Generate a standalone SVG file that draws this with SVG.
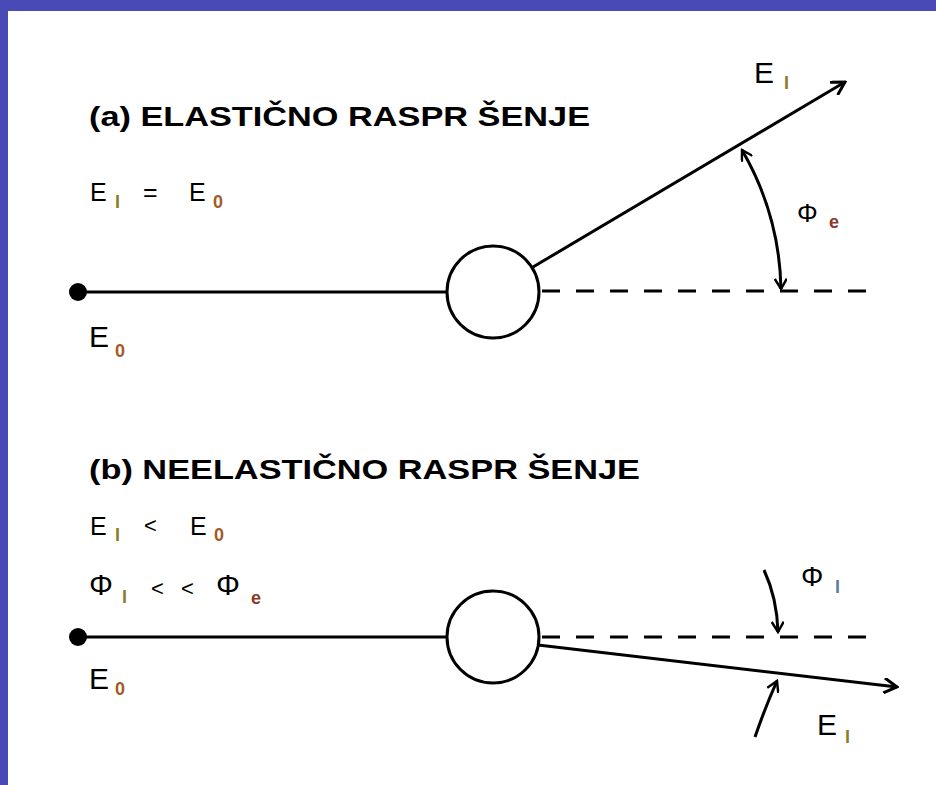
<svg xmlns="http://www.w3.org/2000/svg" width="936" height="785" viewBox="0 0 936 785">
<style>
.t{font-family:"Liberation Sans",Arial,sans-serif;fill:#000}
.title{font-size:28px;font-weight:bold}
.f{font-size:25px}
.big{font-size:30px}
.s{font-size:18px;font-weight:bold}
.ol{fill:#8c7c2c}
.br{fill:#a35a28}
.eb{fill:#8a3a2a}
.bg{fill:#5a7fa0}
.ln{stroke:#000;stroke-width:3;fill:none}
.dash{stroke:#000;stroke-width:3;fill:none;stroke-dasharray:18 16}
</style>
<defs>
<marker id="arr" viewBox="0 0 16 16" refX="14" refY="8" markerWidth="16" markerHeight="16" markerUnits="userSpaceOnUse" orient="auto-start-reverse">
<path d="M1,0.5 L14,8 L1,15.5" fill="none" stroke="#000" stroke-width="3"/>
</marker>
<marker id="arrS" viewBox="0 0 14 14" refX="12" refY="7" markerWidth="13" markerHeight="13" markerUnits="userSpaceOnUse" orient="auto-start-reverse">
<path d="M1,0.5 L12,7 L1,13.5" fill="none" stroke="#000" stroke-width="2.6"/>
</marker>
</defs>
<g id="background">
<rect x="0" y="0" width="936" height="785" fill="#4a4ab6"/>
<rect x="8" y="11" width="928" height="774" fill="#ffffff"/>
</g>
<g id="connectors">
<line class="ln" x1="78" y1="292" x2="447" y2="292"/>
<line class="dash" x1="542" y1="291" x2="882" y2="291"/>
<line class="ln" x1="533" y1="267" x2="845" y2="82" marker-end="url(#arr)"/>
<path class="ln" d="M 742 150 A 288 288 0 0 1 781 289" marker-start="url(#arrS)" marker-end="url(#arrS)"/>
<line class="ln" x1="78" y1="637" x2="447" y2="637"/>
<line class="dash" x1="542" y1="637" x2="882" y2="637"/>
<line class="ln" x1="538" y1="645" x2="897" y2="687" marker-end="url(#arr)"/>
<path class="ln" d="M 764 570 Q 777 598 778 632" marker-end="url(#arrS)"/>
<path class="ln" d="M 755 737 Q 766 705 777 681" marker-end="url(#arrS)"/>
</g>
<g id="source-a"><circle cx="78" cy="292" r="9" fill="#000"/></g>
<g id="target-a"><circle cx="493" cy="292" r="46" fill="#fff" stroke="#000" stroke-width="3"/></g>
<g id="source-b"><circle cx="78" cy="637" r="9" fill="#000"/></g>
<g id="target-b"><circle cx="493" cy="637" r="46" fill="#fff" stroke="#000" stroke-width="3"/></g>
<g id="labels-a">
<text class="t title" x="89" y="126" textLength="501" lengthAdjust="spacingAndGlyphs">(a) ELASTIČNO RASPR ŠENJE</text>
<text class="t f" x="90" y="201">E</text><text class="t s ol" x="115" y="208">I</text>
<text class="t f" x="143" y="201">=</text>
<text class="t f" x="189" y="201">E</text><text class="t s br" x="213" y="208">0</text>
<text class="t big" x="89" y="347">E</text><text class="t s br" x="115" y="357">0</text>
<text class="t big" x="754" y="83">E</text><text class="t s ol" x="784" y="89">I</text>
<text class="t" style="font-size:26px" x="797" y="222">Φ</text><text class="t s eb" x="829" y="228">e</text>
</g>
<g id="labels-b">
<text class="t title" x="89" y="479" textLength="551" lengthAdjust="spacingAndGlyphs">(b) NEELASTIČNO RASPR ŠENJE</text>
<text class="t f" x="90" y="535">E</text><text class="t s ol" x="115" y="541">I</text>
<text class="t" style="font-size:22px" x="144" y="533">&lt;</text>
<text class="t f" x="190" y="535">E</text><text class="t s br" x="214" y="541">0</text>
<text class="t" style="font-size:30px" x="89" y="595">Φ</text><text class="t s ol" x="122" y="603">I</text>
<text class="t" style="font-size:22px" x="151" y="596">&lt;</text>
<text class="t" style="font-size:22px" x="181" y="596">&lt;</text>
<text class="t" style="font-size:30px" x="216" y="595">Φ</text><text class="t s eb" x="251" y="604">e</text>
<text class="t big" x="89" y="689">E</text><text class="t s br" x="115" y="695">0</text>
<text class="t" style="font-size:28px" x="801" y="586">Φ</text><text class="t s bg" x="835" y="593">I</text>
<text class="t big" x="817" y="735">E</text><text class="t s ol" x="845" y="743">I</text>
</g>
</svg>
